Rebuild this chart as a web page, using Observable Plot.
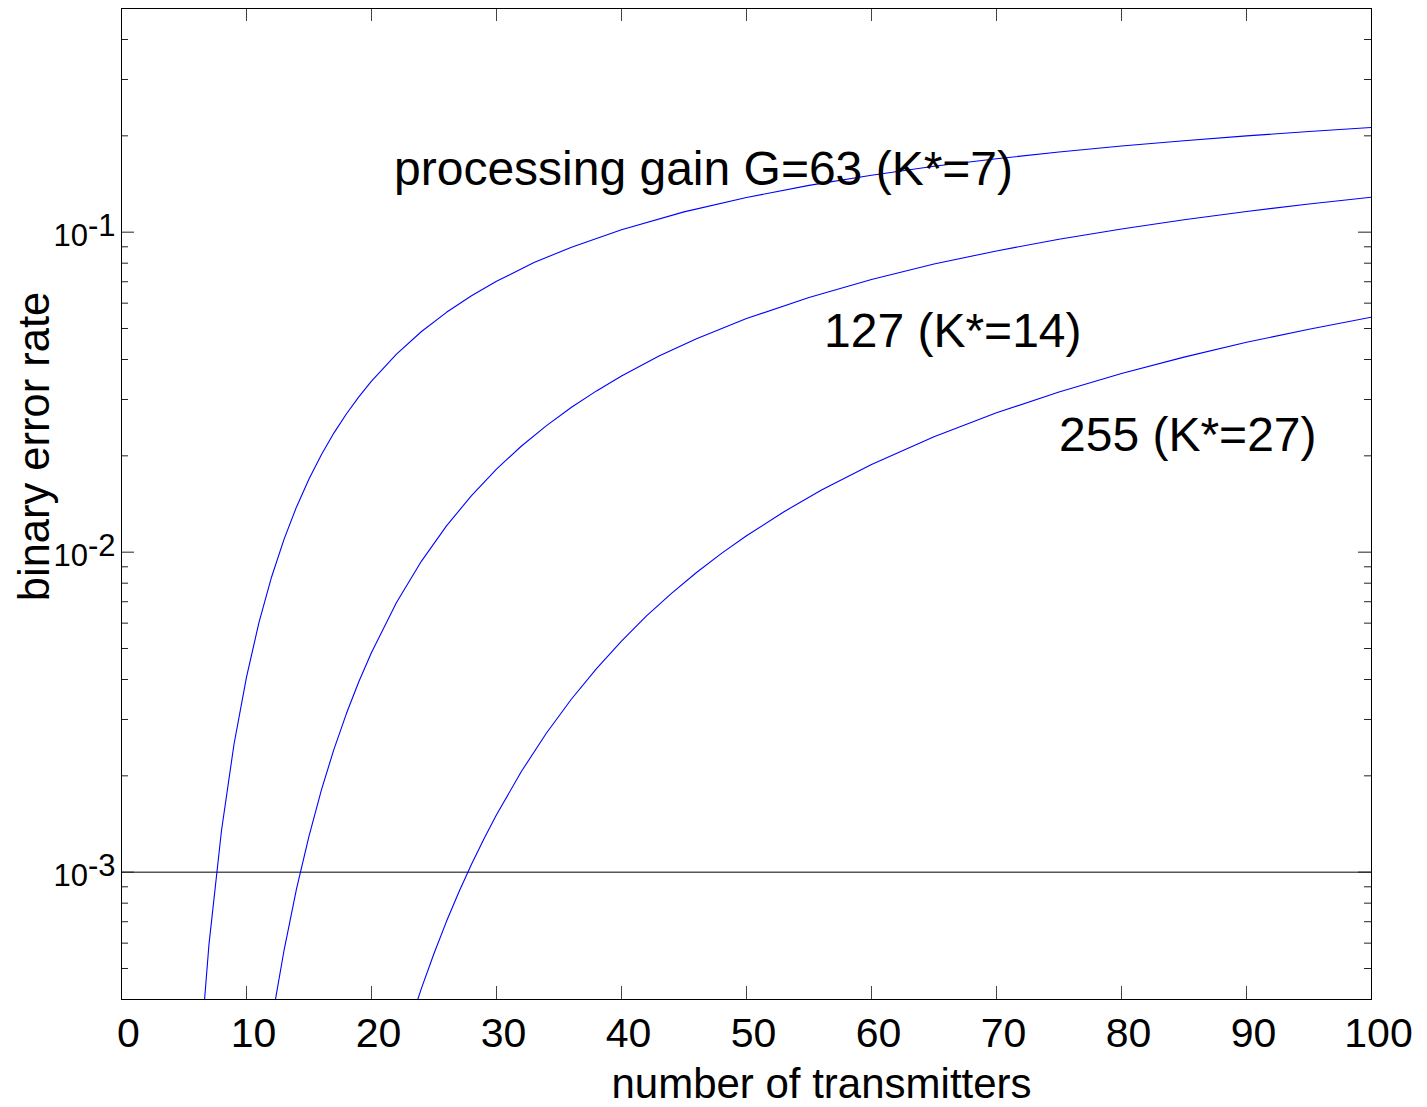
<!DOCTYPE html>
<html>
<head>
<meta charset="utf-8">
<script src="https://cdn.jsdelivr.net/npm/d3@7"></script>
<script src="https://cdn.jsdelivr.net/npm/@observablehq/plot@0.6"></script>
<style>
  html, body { margin: 0; padding: 0; background: #fff; }
  #chart svg { display: block; }
</style>
</head>
<body>
<div id="chart"></div>
<script>
// ---- data ----
// processing gain G = 63
const kG63 = [6,7,8,9,10,11,12,13,14,15,16,17,18,19,20,22,24,26,28,30,33,36,40,45,50,55,60,65,70,75,80,85,90,95,100];
const berG63 = [1.93e-4,5.96e-4,1.35e-3,2.51e-3,4.07e-3,6.03e-3,8.35e-3,0.01096,0.01385,0.01693,0.02019,0.0236,0.02708,0.03064,0.03426,0.04159,0.04893,0.05617,0.06326,0.07022,0.08034,0.08978,0.1018,0.1157,0.1283,0.1400,0.1507,0.1606,0.1696,0.1780,0.1859,0.1931,0.1999,0.2064,0.2125];
// processing gain G = 127
const kG127 = [12,13,14,15,16,17,18,19,20,22,24,26,28,30,32,34,36,38,40,43,46,50,55,60,65,70,75,80,85,90,95,100];
const berG127 = [3.40e-4,5.69e-4,8.87e-4,1.297e-3,1.811e-3,2.424e-3,3.136e-3,3.949e-3,4.86e-3,6.96e-3,9.38e-3,0.01208,0.01503,0.01818,0.02147,0.02485,0.02838,0.03191,0.03553,0.04099,0.04648,0.0537,0.06251,0.07112,0.07948,0.08737,0.09506,0.1023,0.1093,0.1161,0.1224,0.1286];
// processing gain G = 255
const kG255 = [23,24,25,26,27,28,29,30,32,34,36,38,40,42,44,46,48,50,53,56,60,65,70,75,80,85,90,95,100];
const berG255 = [3.31e-4,4.34e-4,5.57e-4,7.02e-4,8.68e-4,1.058e-3,1.272e-3,1.511e-3,2.067e-3,2.721e-3,3.477e-3,4.325e-3,5.27e-3,6.32e-3,7.43e-3,8.64e-3,9.91e-3,0.01125,0.01338,0.01563,0.01879,0.02296,0.02725,0.03165,0.03617,0.04069,0.04527,0.04972,0.05426];

const seriesNames = ["G=63", "G=127", "G=255"];
const thresholdBer = [1e-3];

// ticks
const xTicks = [0,10,20,30,40,50,60,70,80,90,100];
const yMajorTicks = [1e-3, 1e-2, 1e-1];
const yMajorBase = "10";
const yMajorExponents = ["-3", "-2", "-1"];
const yMinorTicks = [4e-4,5e-4,6e-4,7e-4,8e-4,9e-4,
                     2e-3,3e-3,4e-3,5e-3,6e-3,7e-3,8e-3,9e-3,
                     2e-2,3e-2,4e-2,5e-2,6e-2,7e-2,8e-2,9e-2,
                     2e-1,3e-1,4e-1,5e-1];

// texts
const xLabel = "number of transmitters";
const yLabel = "binary error rate";
const annotationTexts = ["processing gain G=63 (K*=7)", "127 (K*=14)", "255 (K*=27)"];
const annotationK = [21.8, 56.2, 75.0];
const annotationBer = [0.1402, 0.0437, 0.0207];

// ---- build tables ----
const table = [];
[[kG63, berG63], [kG127, berG127], [kG255, berG255]].forEach(([ks, bs], s) => {
  ks.forEach((k, i) => table.push({series: seriesNames[s], k, ber: bs[i]}));
});
const annotations = annotationTexts.map((t, i) => ({text: t, k: annotationK[i], ber: annotationBer[i]}));

// ---- layout ----
const W = 1427, H = 1107;
const mL = 121, mR = 56, mT = 8, mB = 108;
const fw = W - mL - mR, fh = H - mT - mB;
const font = "'Liberation Sans', Arial, Helvetica, sans-serif";

const chart = Plot.plot({
  width: W,
  height: H,
  marginLeft: mL, marginRight: mR, marginTop: mT, marginBottom: mB,
  style: {fontFamily: font, background: "#fff", color: "#000"},
  x: {domain: [0, 100], axis: null},
  y: {type: "log", domain: [4e-4, 0.5], axis: null},
  marks: [
    // threshold line
    Plot.ruleY(thresholdBer, {stroke: "#000", strokeWidth: 1}),
    // inward ticks (left/right minor + major)
    Plot.tickY(yMinorTicks, {y: d => d, insetRight: fw - 7, stroke: "#222"}),
    Plot.tickY(yMinorTicks, {y: d => d, insetLeft: fw - 7, stroke: "#222"}),
    Plot.tickY(yMajorTicks, {y: d => d, insetRight: fw - 13, stroke: "#222"}),
    Plot.tickY(yMajorTicks, {y: d => d, insetLeft: fw - 13, stroke: "#222"}),
    // inward x ticks bottom/top
    Plot.tickX(xTicks, {x: d => d, insetTop: fh - 13, stroke: "#444"}),
    Plot.tickX(xTicks, {x: d => d, insetBottom: fh - 13, stroke: "#444"}),
    // curves
    Plot.line(table, {x: "k", y: "ber", z: "series", stroke: "#0000ff", strokeWidth: 1.1, clip: true}),
    // frame
    Plot.frame({stroke: "#000", strokeWidth: 1}),
    // x tick labels
    Plot.text(xTicks, {x: d => d, frameAnchor: "bottom", text: d => String(d), dx: 7, dy: 47.5, fontSize: 41, fill: "#000"}),
    // y tick labels: "10" (exponent added as a raised tspan below)
    Plot.text(yMajorTicks, {y: d => d, frameAnchor: "left", text: () => yMajorBase, textAnchor: "start", dx: -68, dy: 4, fontSize: 31, fill: "#000", ariaDescription: "y-tick-labels"}),
    // axis labels
    Plot.text([xLabel], {frameAnchor: "bottom", text: d => d, dx: 75, dy: 98, lineAnchor: "bottom", fontSize: 42, fill: "#000"}),
    Plot.text([yLabel], {frameAnchor: "left", text: d => d, rotate: -90, dx: -73, dy: -57.5, lineAnchor: "bottom", textAnchor: "middle", fontSize: 43.5, fill: "#000"}),
    // annotations
    Plot.text(annotations, {x: "k", y: "ber", text: "text", textAnchor: "start", lineAnchor: "bottom", fontSize: 48, fill: "#000"})
  ]
});

// raise the exponent of each y tick label (same size as the base, like the reference)
d3.select(chart).selectAll('g[aria-description="y-tick-labels"] text').each(function (d, i) {
  const idx = typeof d === "number" ? d : i;
  d3.select(this).append("tspan")
    .attr("dx", 0)
    .attr("dy", -10.3)
    .text(yMajorExponents[idx]);
});

document.getElementById("chart").appendChild(chart);
</script>
</body>
</html>
